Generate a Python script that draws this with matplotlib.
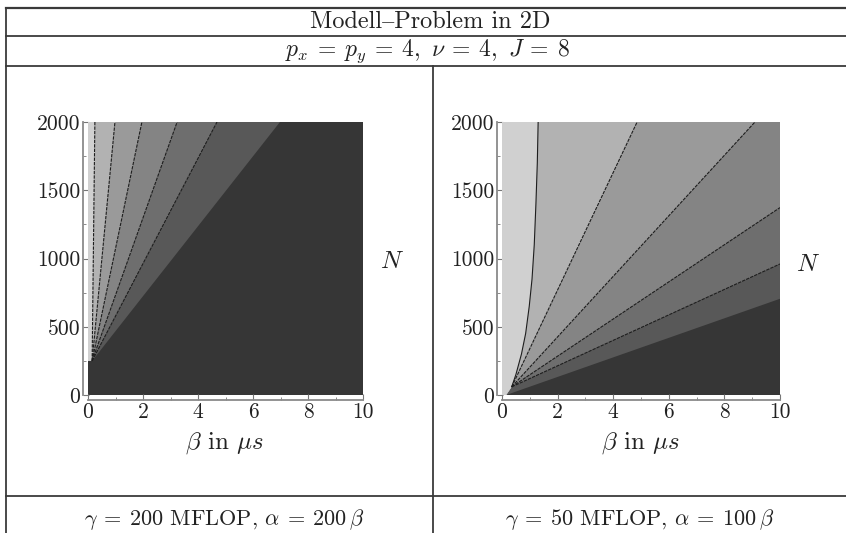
import numpy as np
import matplotlib
matplotlib.use("Agg")
import matplotlib.pyplot as plt
from matplotlib.lines import Line2D

plt.rcParams['mathtext.fontset'] = 'cm'
plt.rcParams['font.family'] = ['cmr10', 'STIXGeneral', 'DejaVu Serif']
plt.rcParams['axes.formatter.use_mathtext'] = True
plt.rcParams['axes.unicode_minus'] = False

# ---------------- data ----------------
x_ticks = [0, 2, 4, 6, 8, 10]
y_ticks = [0, 500, 1000, 1500, 2000]
region_grays = ['#d0d0d0', '#b2b2b2', '#9a9a9a', '#848484', '#6e6e6e', '#585858', '#363636']

# left panel: boundaries fan out from a common point and end on the top edge
left_conv_beta = 0.15
left_conv_n = 250
left_top_beta = [0.25, 0.98, 1.96, 3.24, 4.69, 6.98]

# right panel: first boundary is a curve
right_curve_beta = [0.35, 0.50, 0.70, 0.85, 0.98, 1.08, 1.16, 1.22, 1.27, 1.30]
right_curve_n = [60, 150, 300, 450, 650, 850, 1100, 1400, 1700, 2000]
right_conv_beta = 0.35
right_conv_n = 60
right_end_beta = [4.86, 9.10, 10.0, 10.0, 10.0]
right_end_n = [2000, 2000, 1373, 960, 705]
right_dark_start_beta = 0.15
right_dark_start_n = 0

W, H = 846, 533
fig = plt.figure(figsize=(W / 100, H / 100), dpi=100)
fig.patch.set_facecolor('white')
TXT = '#222222'


def px_axes(x0, x1, ytop, ybot):
    return fig.add_axes([x0 / W, 1 - ybot / H, (x1 - x0) / W, (ybot - ytop) / H])


def style(ax):
    ax.set_xlim(0, 10)
    ax.set_ylim(0, 2000)
    for s in ['top', 'right']:
        ax.spines[s].set_visible(False)
    for s in ['left', 'bottom']:
        ax.spines[s].set_position(('outward', 3.6))
        ax.spines[s].set_color('#8a8a8a')
        ax.spines[s].set_linewidth(1.3)
    ax.set_xticks(x_ticks)
    ax.set_xticklabels([str(v) for v in x_ticks])
    ax.set_yticks(y_ticks)
    ax.set_yticklabels([str(v) for v in y_ticks])
    ax.set_xticks([1, 3, 5, 7, 9], minor=True)
    ax.set_yticks([250, 750, 1250, 1750], minor=True)
    ax.tick_params(which='major', direction='in', length=4, width=0.8,
                   color='#777777', labelsize=15.5, pad=2, labelcolor=TXT)
    ax.tick_params(which='minor', direction='in', length=2, width=0.6, color='#777777')
    ax.set_facecolor('white')


def region_poly(bx, by, low_x, low_y):
    """polygon of the area above/left of a boundary, closed along the low edge"""
    xs = list(bx)
    ys = list(by)
    if xs[-1] >= 10 and ys[-1] < 2000:
        xs += [10, 0]
        ys += [2000, 2000]
    else:
        xs += [0]
        ys += [2000]
    xs += list(low_x)
    ys += list(low_y)
    return xs, ys


# ---------------- left panel ----------------
ax1 = px_axes(88, 363, 122, 395)
style(ax1)
ax1.fill([0, 10, 10, 0], [0, 0, 2000, 2000], color=region_grays[6], lw=0, zorder=1)
for k in range(len(left_top_beta) - 1, -1, -1):
    bx = [left_conv_beta, left_top_beta[k]]
    by = [left_conv_n, 2000]
    xs, ys = region_poly(bx, by, [0], [left_conv_n])
    ax1.fill(xs, ys, color=region_grays[k], lw=0, zorder=2 + (6 - k))
for k in range(len(left_top_beta) - 1):
    ax1.plot([left_conv_beta, left_top_beta[k]], [left_conv_n, 2000],
             color='#1e1e1e', lw=0.8, ls=(0, (3, 1)), zorder=20)

# ---------------- right panel ----------------
ax2 = px_axes(502, 780, 122, 395)
style(ax2)
ax2.fill([0, 10, 10, 0], [0, 0, 2000, 2000], color=region_grays[6], lw=0, zorder=1)
bounds = [(list(right_curve_beta), list(right_curve_n))]
for eb, en in zip(right_end_beta[:-1], right_end_n[:-1]):
    bounds.append(([right_conv_beta, eb], [right_conv_n, en]))
bounds.append(([right_dark_start_beta, right_end_beta[-1]],
               [right_dark_start_n, right_end_n[-1]]))
for k in range(len(bounds) - 1, -1, -1):
    bx, by = bounds[k]
    if k < len(bounds) - 1:
        xs, ys = region_poly(bx, by, [0, right_dark_start_beta], [0, right_dark_start_n])
    else:
        xs, ys = region_poly(bx, by, [0], [0])
    ax2.fill(xs, ys, color=region_grays[k], lw=0, zorder=2 + (6 - k))
for k in range(len(bounds) - 1):
    bx, by = bounds[k]
    ax2.plot(bx, by, color='#1e1e1e', lw=0.8, ls=(0, (3, 1)) if k > 0 else '-', zorder=20)

# ---------------- axis texts ----------------
for cx in (225, 641):
    fig.text(cx / W, 1 - 443 / H, r'$\beta$ in $\mu s$', ha='center', va='center',
             fontsize=18, color=TXT)
fig.text(392 / W, 1 - 262 / H, r'$N$', ha='center', va='center', fontsize=18, color=TXT)
fig.text(808 / W, 1 - 265 / H, r'$N$', ha='center', va='center', fontsize=18, color=TXT)

# ---------------- table frame ----------------
lc = '#3a3a3a'


def hline(y, x0=6, x1=846, lw=1.3):
    fig.add_artist(Line2D([x0 / W, x1 / W], [1 - y / H, 1 - y / H], color=lc, lw=lw))


def vline(x, y0, y1, lw=1.3):
    fig.add_artist(Line2D([x / W, x / W], [1 - y0 / H, 1 - y1 / H], color=lc, lw=lw))


hline(8, lw=1.6)
hline(36)
hline(66)
hline(496)
vline(6, 8, 533)
vline(433, 66, 533)

fig.text(430 / W, 1 - 22 / H, 'Modell\u2013Problem in 2D', ha='center', va='center',
         fontsize=17.5, color=TXT)
fig.text(427 / W, 1 - 51 / H, r'$p_x\:=\:p_y\:=\:4,\ \nu\:=\:4,\ J\:=\:8$', ha='center',
         va='center', fontsize=17, color=TXT)
fig.text(224 / W, 1 - 519 / H, r'$\gamma\:=\:200$ MFLOP, $\alpha\:=\:200\,\beta$', ha='center',
         va='center', fontsize=16, color=TXT)
fig.text(640 / W, 1 - 519 / H, r'$\gamma\:=\:50$ MFLOP, $\alpha\:=\:100\,\beta$', ha='center',
         va='center', fontsize=16, color=TXT)

fig.savefig('out.png', dpi=100)
